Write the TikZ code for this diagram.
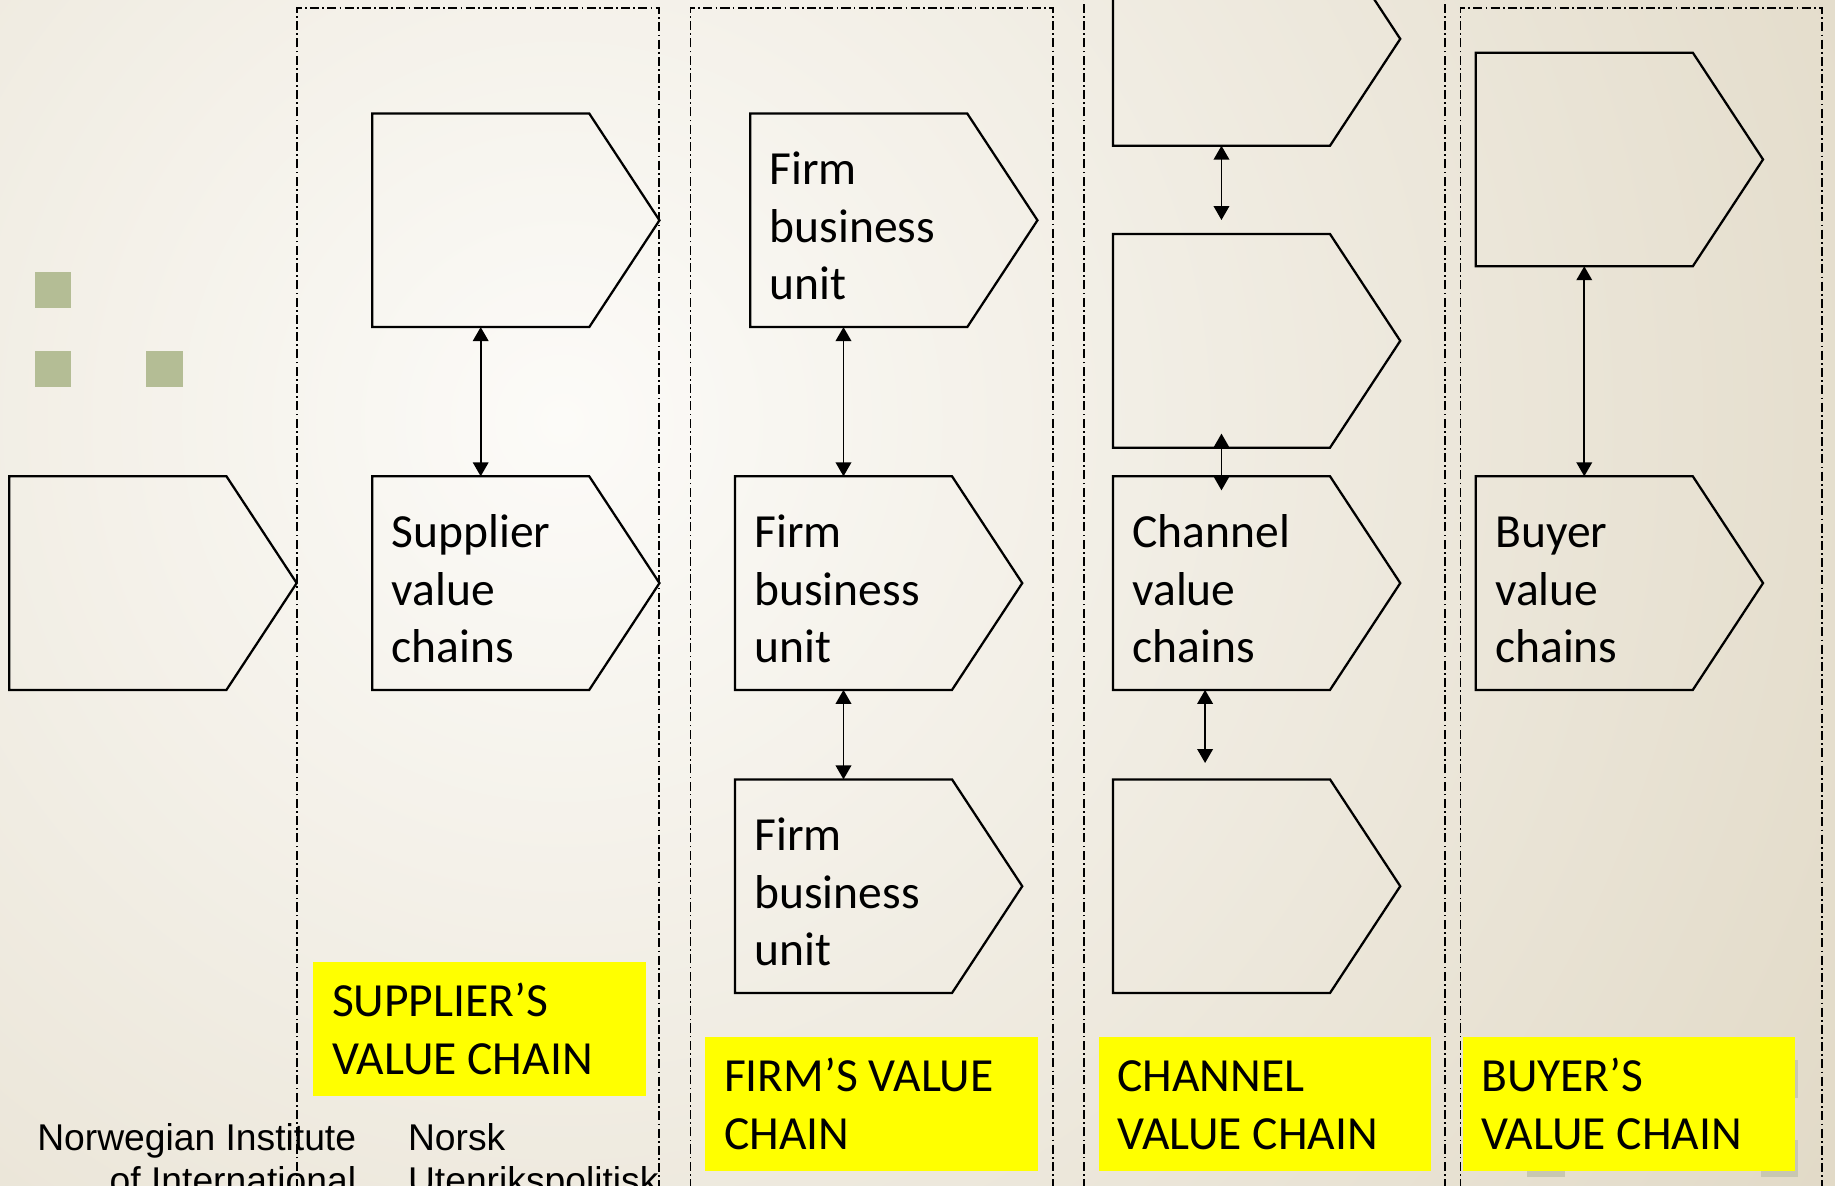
\documentclass[tikz,border=0pt]{standalone}
\usepackage{fontspec}
\setmainfont{Carlito}
\newfontfamily\footfont{Liberation Sans}
\usetikzlibrary{calc,arrows.meta}
\definecolor{bgbeige}{HTML}{E1D9C6}
\definecolor{glow}{HTML}{FCFBF8}
\definecolor{sqgreen}{HTML}{B4BD95}
\definecolor{shadowsq}{HTML}{C8C7B2}
\definecolor{labyellow}{HTML}{FFFF00}
\tikzset{
  colline/.style={line width=0.4pt, dash pattern=on 2.2pt off 0.8pt on 0.4pt off 0.8pt},
  chevbody/.style={rectangle, draw=none, inner sep=0pt, minimum width=1.84cm, minimum height=1.81cm, anchor=north west},
  chevline/.style={line width=0.55pt, line join=miter, draw=black},
  chevtext/.style={inner sep=0pt, anchor=base west, font=\fontsize{11.55pt}{13.95pt}\selectfont},
  arr/.style={line width=0.4pt, {Triangle[length=3.4pt,width=3.8pt]}-{Triangle[length=3.4pt,width=3.8pt]}},
  ylab/.style={rectangle, fill=labyellow, draw=none, inner sep=0pt, minimum width=2.84cm, minimum height=1.15cm, anchor=north west},
  foottext/.style={inner sep=0pt, font=\footfont\fontsize{9.05pt}{10.5pt}\selectfont},
}
\newcommand\chev[4]{%
  \node[chevbody] (#1) at (#2,#3) {};
  \draw[chevline] (#1.north west) -- (#1.north east) -- ($(#1.east)+(60,0)$) -- (#1.south east) -- (#1.south west) -- cycle;
  \node[chevtext] (#1-t) at ($(#1.north west)+(16,61)$) {\parbox[t]{1.7cm}{\raggedright #4}};
}
\newcommand\ylabel[4]{%
  \node[ylab] (#1) at (#2,#3) {};
  \node[chevtext] (#1-t) at ($(#1.north west)+(16,48)$) {\parbox[t]{2.7cm}{\raggedright #4}};
}
\begin{document}
\begin{tikzpicture}[x=0.01cm,y=-0.01cm]
\useasboundingbox (0,0) rectangle (1568,1012.6);
\clip (0,0) rectangle (1568,1012.6);
% background
\fill[bgbeige] (0,0) rectangle (1568,1012.6);
\shade[inner color=glow, outer color=bgbeige] (480,360) circle (1300);
% decorative squares
\fill[sqgreen] (30,232) rectangle (61,263);
\fill[sqgreen] (30,300) rectangle (61,331);
\fill[sqgreen] (125,300) rectangle (156,331);
\fill[shadowsq] (1305,974) rectangle (1337,1006);
\fill[shadowsq] (1505,974) rectangle (1536,1006);
\fill[shadowsq] (1505,906) rectangle (1536,938);
% columns
\draw[colline] (254,1030) -- (254,7) -- (563,7) -- (563,1030);
\draw[colline] (590,1030) -- (590,7) -- (900,7) -- (900,1030);
\draw[colline] (926,1030) -- (926,-20);
\draw[colline] (1235,1030) -- (1235,-20);
\draw[colline] (1248,1030) -- (1248,7) -- (1557,7) -- (1557,1030);
% chevrons
\chev{lft}{8}{407}{}
\chev{s1}{318}{97}{}
\chev{s2}{318}{407}{Supplier\\value\\chains}
\chev{f1}{641}{97}{Firm\\business\\unit}
\chev{f2}{628}{407}{Firm\\business\\unit}
\chev{f3}{628}{666}{Firm\\business\\unit}
\chev{c1}{951}{-58}{}
\chev{c2}{951}{200}{}
\chev{c3}{951}{407}{Channel\\value\\chains}
\chev{c4}{951}{666}{}
\chev{b1}{1261}{45}{}
\chev{b2}{1261}{407}{Buyer\\value\\chains}
% connectors
\draw[arr] (s1.south) -- (s2.north);
\draw[arr] (f2.north |- f1.south) -- (f2.north);
\draw[arr] (f2.south) -- (f3.north);
\draw[arr] (c1.south) -- ($(c2.north)+(0,-12)$);
\draw[arr] ($(c2.south)+(0,-12)$) -- ($(c3.north)+(0,12)$);
\draw[arr] ($(c3.south)+(-14,0)$) -- ($(c4.north)+(-14,-14)$);
\draw[arr] (b1.south) -- (b2.north);
% labels
\ylabel{ls}{267}{821}{SUPPLIER’S\\VALUE CHAIN}
\ylabel{lf}{602}{885}{FIRM’S VALUE\\CHAIN}
\ylabel{lc}{938}{885}{CHANNEL\\VALUE CHAIN}
\ylabel{lb}{1249}{885}{BUYER’S\\VALUE CHAIN}
% footer
\node[foottext, anchor=base east] (nupi1) at (305,983) {\parbox[t]{3cm}{\raggedleft Norwegian Institute\\of International}};
\node[foottext, anchor=base west] (nupi2) at (348,983) {\parbox[t]{3cm}{\raggedright Norsk\\Utenrikspolitisk}};
\end{tikzpicture}
\end{document}
